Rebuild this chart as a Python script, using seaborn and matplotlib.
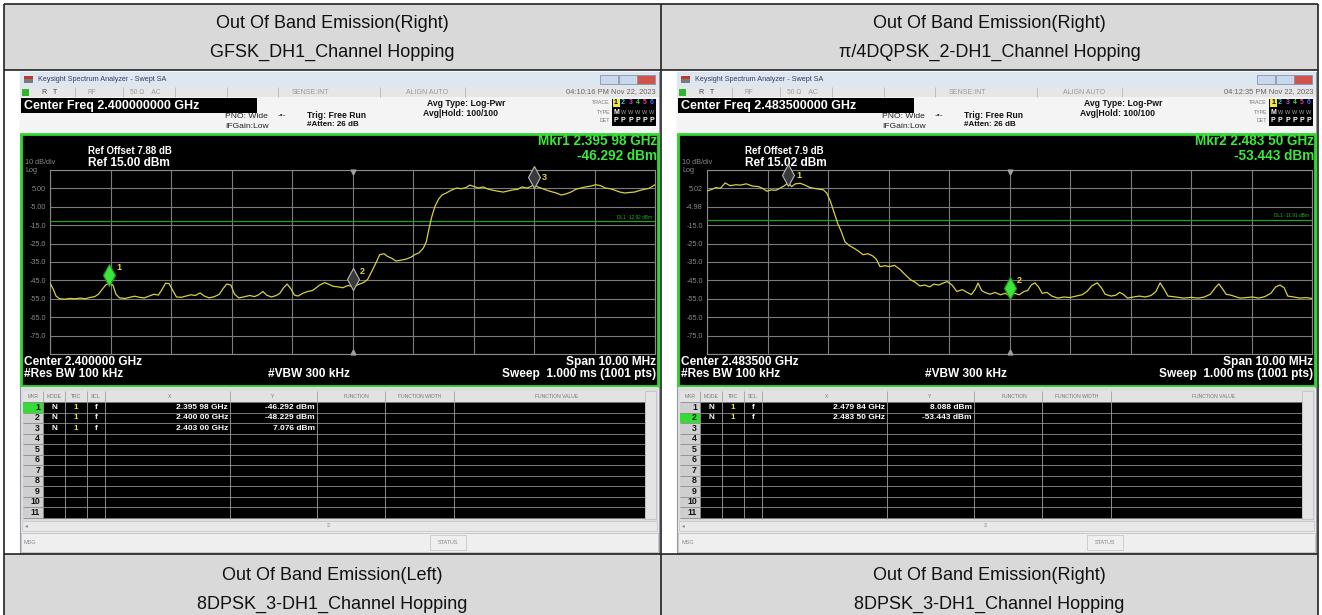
import matplotlib
matplotlib.use("Agg")
import matplotlib.pyplot as plt
import matplotlib.transforms as mtransforms
from matplotlib.patches import Rectangle
import numpy as np
import seaborn as sns

sns.set_theme(style="white")
plt.rcParams['font.family'] = ['Liberation Sans', 'DejaVu Sans']

# ---- values (MHz, dBm) ----
gfsk_freq = [2395.00, 2395.05, 2395.10, 2395.16, 2395.25, 2395.33, 2395.42, 2395.50, 2395.58, 2395.66,
             2395.74, 2395.80, 2395.86, 2395.92, 2395.98, 2396.04, 2396.09, 2396.15, 2396.24, 2396.32,
             2396.40, 2396.48, 2396.56, 2396.64, 2396.72, 2396.79, 2396.85, 2396.91, 2396.97, 2397.03,
             2397.09, 2397.17, 2397.25, 2397.33, 2397.40, 2397.48, 2397.55, 2397.63, 2397.72, 2397.80,
             2397.86, 2397.92, 2397.99, 2398.05, 2398.12, 2398.20, 2398.30, 2398.38, 2398.45, 2398.52,
             2398.58, 2398.66, 2398.74, 2398.80, 2398.86, 2398.92, 2398.98, 2399.04, 2399.10, 2399.18,
             2399.26, 2399.34, 2399.40, 2399.46, 2399.54, 2399.60, 2399.68, 2399.76, 2399.84, 2399.92,
             2400.00, 2400.06, 2400.13, 2400.19, 2400.25, 2400.32, 2400.38, 2400.45, 2400.52, 2400.58,
             2400.65, 2400.72, 2400.80, 2400.88, 2400.96, 2401.03, 2401.10, 2401.17, 2401.22, 2401.27,
             2401.31, 2401.36, 2401.42, 2401.48, 2401.55, 2401.63, 2401.72, 2401.80, 2401.88, 2401.94,
             2402.01, 2402.08, 2402.16, 2402.24, 2402.32, 2402.40, 2402.49, 2402.57, 2402.65, 2402.73,
             2402.80, 2402.88, 2402.95, 2403.00, 2403.06, 2403.13, 2403.21, 2403.29, 2403.37, 2403.45,
             2403.53, 2403.61, 2403.69, 2403.77, 2403.85, 2403.93, 2404.02, 2404.10, 2404.18, 2404.26,
             2404.34, 2404.42, 2404.50, 2404.58, 2404.66, 2404.74, 2404.82, 2404.90, 2404.96, 2405.00]
gfsk_dbm = [-46.5, -49.5, -53.5, -55.0, -55.2, -54.8, -55.0, -54.6, -55.0, -54.3,
            -53.8, -52.5, -50.0, -47.5, -46.3, -47.5, -52.5, -54.5, -54.8, -54.2,
            -53.6, -54.2, -54.5, -53.5, -52.5, -53.0, -50.0, -46.5, -46.8, -50.5,
            -54.0, -54.2, -53.5, -52.8, -53.2, -51.8, -53.5, -54.5, -53.8, -52.5,
            -49.5, -47.0, -47.5, -52.5, -54.5, -54.0, -53.2, -53.8, -52.8, -51.0,
            -53.0, -54.0, -53.2, -52.0, -49.0, -47.0, -49.5, -53.0, -53.5, -52.0,
            -51.0, -50.5, -49.0, -47.5, -46.2, -47.0, -48.2, -48.5, -49.0, -47.8,
            -48.2, -47.8, -46.8, -46.0, -44.5, -40.0, -36.0, -31.0, -30.5, -32.0,
            -33.0, -34.5, -34.0, -33.5, -32.5, -31.0, -30.0, -27.5, -24.0, -16.0,
            -10.5, -5.0, -1.0, 1.5, 2.5, 4.0, 5.2, 4.8, 5.5, 6.8,
            6.0, 5.2, 5.8, 4.6, 4.0, 3.5, 3.0, 3.6, 4.2, 4.5,
            5.8, 5.2, 6.0, 7.1, 5.8, 5.0, 4.0, 3.2, 2.5, 1.4,
            2.0, 3.0, 4.5, 5.2, 5.8, 6.2, 7.0, 6.5, 5.2, 4.8,
            4.0, 3.0, 2.5, 2.8, 3.0, 3.8, 4.5, 5.0, 6.2, 7.0]

dqpsk_freq = [2478.50, 2478.58, 2478.65, 2478.72, 2478.80, 2478.88, 2478.98, 2479.05, 2479.15, 2479.25,
              2479.35, 2479.42, 2479.49, 2479.56, 2479.64, 2479.71, 2479.78, 2479.84, 2479.90, 2479.96,
              2480.04, 2480.12, 2480.20, 2480.28, 2480.35, 2480.42, 2480.48, 2480.54, 2480.60, 2480.66,
              2480.72, 2480.78, 2480.85, 2480.93, 2481.00, 2481.08, 2481.16, 2481.24, 2481.30, 2481.36,
              2481.44, 2481.52, 2481.60, 2481.69, 2481.78, 2481.86, 2481.94, 2482.02, 2482.10, 2482.18,
              2482.25, 2482.33, 2482.40, 2482.47, 2482.55, 2482.63, 2482.72, 2482.80, 2482.87, 2482.93,
              2482.98, 2483.04, 2483.10, 2483.18, 2483.26, 2483.35, 2483.43, 2483.50, 2483.58, 2483.66,
              2483.74, 2483.80, 2483.86, 2483.92, 2483.98, 2484.04, 2484.12, 2484.20, 2484.30, 2484.40,
              2484.50, 2484.60, 2484.70, 2484.78, 2484.86, 2484.95, 2485.02, 2485.08, 2485.18, 2485.26,
              2485.32, 2485.38, 2485.45, 2485.55, 2485.65, 2485.74, 2485.84, 2485.92, 2485.99, 2486.06,
              2486.12, 2486.25, 2486.38, 2486.50, 2486.62, 2486.72, 2486.82, 2486.90, 2486.96, 2487.02,
              2487.08, 2487.16, 2487.25, 2487.31, 2487.42, 2487.52, 2487.62, 2487.72, 2487.82, 2487.90,
              2487.97, 2488.04, 2488.10, 2488.20, 2488.30, 2488.40, 2488.50]
dqpsk_dbm = [3.6, 4.5, 5.5, 5.0, 8.0, 6.5, 7.0, 6.8, 7.5, 6.3,
             6.0, 5.0, 3.5, 4.2, 4.0, 5.2, 6.5, 8.1, 6.0, 7.5,
             7.8, 6.8, 5.5, 5.0, 4.6, 4.3, 2.5, -2.0, -8.0, -14.0,
             -18.5, -24.0, -26.0, -27.5, -29.0, -31.0, -30.5, -31.7, -33.5, -37.5,
             -37.0, -37.5, -36.8, -39.0, -42.0, -44.5, -46.0, -48.0, -47.5, -48.5,
             -47.0, -47.5, -46.5, -45.6, -47.5, -51.0, -50.0, -51.5, -52.7, -50.0,
             -46.4, -50.5, -51.6, -52.5, -51.5, -52.8, -52.0, -53.4, -52.0, -52.8,
             -51.0, -50.5, -47.5, -46.3, -48.5, -52.0, -51.5, -53.5, -54.6, -54.0,
             -54.3, -53.5, -52.8, -51.0, -48.0, -46.3, -49.0, -52.5, -53.5, -53.0,
             -51.5, -52.5, -54.6, -54.0, -53.5, -54.0, -53.2, -51.0, -46.3, -50.0,
             -53.5, -54.0, -54.6, -54.2, -54.6, -54.0, -52.5, -49.0, -46.9, -49.5,
             -52.5, -53.0, -54.0, -54.6, -54.3, -54.0, -54.6, -53.8, -52.0, -48.5,
             -47.5, -49.0, -53.5, -54.0, -54.6, -54.3, -54.8]

gfsk_mkr_freq = [2395.98, 2400.00, 2403.00]
gfsk_mkr_dbm = [-46.292, -48.229, 7.076]
dqpsk_mkr_freq = [2479.84, 2483.50]
dqpsk_mkr_dbm = [8.088, -53.443]

header_top_1 = ['Out Of Band Emission(Right)', 'Out Of Band Emission(Right)']
header_top_2 = ['GFSK_DH1_Channel Hopping', 'π/4DQPSK_2-DH1_Channel Hopping']
header_bot_1 = ['Out Of Band Emission(Left)', 'Out Of Band Emission(Right)']
header_bot_2 = ['8DPSK_3-DH1_Channel Hopping', '8DPSK_3-DH1_Channel Hopping']

center_mhz = [2400.0, 2483.5]
center_freq = ['2.400000000', '2.483500000']
center_short = ['2.400000', '2.483500']
timestamps = ['04:10:16 PM Nov 22, 2023', '04:12:35 PM Nov 22, 2023']
ref_offset = ['7.88', '7.9']
ref_level = [15.00, 15.02]
dl1_level = [-12.92, -11.91]
active_mkr = [1, 2]

traces = [(gfsk_freq, gfsk_dbm, gfsk_mkr_freq, gfsk_mkr_dbm),
          (dqpsk_freq, dqpsk_dbm, dqpsk_mkr_freq, dqpsk_mkr_dbm)]

W, H = 1322, 615
fig = plt.figure(figsize=(W / 100, H / 100), dpi=100)
bg = fig.add_axes([0, 0, 1, 1])
bg.set_xlim(0, W)
bg.set_ylim(H, 0)
bg.axis('off')


def box(x, y, w, h, fc, ec='none', lw=0, z=1):
    bg.add_patch(Rectangle((x, y), w, h, facecolor=fc, edgecolor=ec, linewidth=lw, zorder=z))


def txt(x, y, s, size, color='black', ha='left', weight='normal', z=5):
    bg.text(x, y, s, fontsize=size, color=color, ha=ha, va='center', fontweight=weight, zorder=z)


def vline(x, y0, y1, color, lw=0.8, z=3):
    bg.plot([x, x], [y0, y1], color=color, lw=lw, zorder=z, solid_capstyle='butt')


def hline(x0, x1, y, color, lw=0.8, z=3):
    bg.plot([x0, x1], [y, y], color=color, lw=lw, zorder=z, solid_capstyle='butt')


def ghz(f):
    s = f'{f / 1000:.5f}'
    return s[:5] + ' ' + s[5:]


# outer table
box(0, 0, W, H, 'white', z=0)
cells = [(4, 661), (661, 1318)]
for i, (c0, c1) in enumerate(cells):
    box(c0, 4, c1 - c0, 66, '#d9d9d9', z=0.5)
    box(c0, 554, c1 - c0, 70, '#d9d9d9', z=0.5)
    cx = (c0 + c1) / 2
    txt(cx, 23, header_top_1[i], 13, '#111111', ha='center')
    txt(cx, 52, header_top_2[i], 13, '#111111', ha='center')
    txt(cx, 575, header_bot_1[i], 13, '#111111', ha='center')
    txt(cx, 604, header_bot_2[i], 13, '#111111', ha='center')
for y in [4, 70, 554]:
    hline(4, 1318, y, '#222222', 1.2, z=6)
for x in [4, 661, 1318]:
    vline(x, 4, H, '#222222', 1.2, z=6)


def draw_screen(i, x0):
    top = 72
    sw = 639
    box(x0, top, sw, 481, '#eeeeee', '#8f9aa6', 0.8)
    # title bar
    box(x0, top, sw, 15, '#dde7f2', z=2)
    box(x0 + 4, top + 4, 9, 3, '#c0392b', z=3)
    box(x0 + 4, top + 7, 9, 4, '#7a7a7a', z=3)
    txt(x0 + 18, top + 7.5, 'Keysight Spectrum Analyzer - Swept SA', 5.2, '#3a3a5a')
    for bx, col in [(580, '#c9d8ea'), (599, '#c9d8ea'), (617, '#d0544c')]:
        box(x0 + bx, top + 3, 18, 9, col, '#8796aa', 0.6, z=3)
    # status row
    box(x0, 87, sw, 10, '#e6e6e6', z=2)
    for dx in [55, 103, 155, 207, 258, 360, 445]:
        vline(x0 + dx, 87, 97, '#b5b5b5', 0.6)
    box(x0 + 2, 89, 7, 7, '#2fb52f', z=3)
    txt(x0 + 22, 92, 'R   T', 5, '#444444')
    txt(x0 + 72, 92, 'RF', 4.8, '#999999', ha='center')
    txt(x0 + 110, 92, '50 Ω    AC', 4.8, '#999999')
    txt(x0 + 290, 92, 'SENSE:INT', 5, '#999999', ha='center')
    txt(x0 + 407, 92, 'ALIGN AUTO', 5, '#999999', ha='center')
    txt(x0 + 636, 92, timestamps[i], 5.4, '#666666', ha='right')
    # settings area
    box(x0, 97, sw, 37, '#f4f4f4', z=2)
    box(x0 + 1, 98, 236, 15, 'black', z=3)
    txt(x0 + 4, 106, 'Center Freq ' + center_freq[i] + ' GHz', 9, 'white', weight='bold')
    txt(x0 + 205, 116, 'PNO: Wide', 6.1, '#222222')
    txt(x0 + 205, 126, 'IFGain:Low', 6.1, '#222222')
    txt(x0 + 262, 116, '-•-', 6, '#333333', ha='center')
    txt(x0 + 287, 115, 'Trig: Free Run', 6.2, '#111111', weight='bold')
    txt(x0 + 287, 125, '#Atten: 26 dB', 5.8, '#111111', weight='bold')
    txt(x0 + 407, 103, 'Avg Type: Log-Pwr', 6.2, '#111111', weight='bold')
    txt(x0 + 403, 113, 'Avg|Hold: 100/100', 6.2, '#111111', weight='bold')
    for lab, yy in [('TRACE', 103), ('TYPE', 112), ('DET', 121)]:
        txt(x0 + 590, yy, lab, 3.8, '#777777', ha='right')
    box(x0 + 592, 99, 44, 27, 'black', z=3)
    trace_cols = ['black', '#3cc8e8', '#b050e0', '#5ad25a', '#e040a0', '#5060ff']
    for k in range(6):
        cx = x0 + 596 + k * 7.2
        if k == 0:
            box(cx - 3, 99, 6.5, 8, '#f2e640', z=4)
        txt(cx, 103, str(k + 1), 5, trace_cols[k], ha='center', weight='bold')
        txt(cx, 121, 'P', 5, 'white', ha='center', weight='bold')
        txt(cx, 112, 'M' if k == 0 else 'W', 5 if k == 0 else 4, 'white' if k == 0 else '#aaaaaa',
            ha='center', weight='bold' if k == 0 else 'normal')

    # graph box
    box(x0 + 1, 134, 637, 252, 'black', '#33d633', 2.0, z=2)
    txt(x0 + 5, 163, '10 dB/div', 5.2, '#8a8a8a')
    txt(x0 + 5, 171, 'Log', 5.2, '#8a8a8a')
    txt(x0 + 68, 151, 'Ref Offset ' + ref_offset[i] + ' dB', 7, 'white', weight='bold')
    txt(x0 + 68, 163, f'Ref {ref_level[i]:.2f} dBm', 8.6, 'white', weight='bold')
    k_act = active_mkr[i] - 1
    mf = traces[i][2][k_act]
    mv = traces[i][3][k_act]
    txt(x0 + 637, 141, f'Mkr{active_mkr[i]} {ghz(mf)} GHz', 9.8, '#3be83b', ha='right', weight='bold')
    txt(x0 + 637, 155.5, f'{mv:.3f} dBm', 9.8, '#3be83b', ha='right', weight='bold')
    txt(x0 + 4, 362, 'Center ' + center_short[i] + ' GHz', 8.6, 'white', weight='bold')
    txt(x0 + 4, 374, '#Res BW 100 kHz', 8.6, 'white', weight='bold')
    txt(x0 + 248, 374, '#VBW 300 kHz', 8.6, 'white', weight='bold')
    txt(x0 + 636, 362, 'Span 10.00 MHz', 8.6, 'white', ha='right', weight='bold')
    txt(x0 + 636, 374, 'Sweep  1.000 ms (1001 pts)', 8.6, 'white', ha='right', weight='bold')

    # trace axes
    freq, dbm, mk_f, mk_v = traces[i]
    ref = ref_level[i]
    f_lo, f_hi = center_mhz[i] - 5, center_mhz[i] + 5
    ax = fig.add_axes([(x0 + 30) / W, 1 - 354 / H, 605 / W, 184 / H])
    ax.set_facecolor('black')
    sns.lineplot(x=freq, y=dbm, ax=ax, color='#d8d03c', lw=0.9, sort=False, estimator=None, zorder=4)
    ax.set_xlim(f_lo, f_hi)
    ax.set_ylim(ref - 100, ref)
    ax.set_xticks(np.linspace(f_lo, f_hi, 11))
    yt = [ref - 10 * k for k in range(11)]
    ylab = []
    for k, v in enumerate(yt):
        if k in (0, 10):
            ylab.append('')
        elif abs(v) < 10:
            ylab.append(f'{v:.2f}')
        else:
            ylab.append(f'{v:.1f}')
    ax.set_yticks(yt)
    ax.set_yticklabels(ylab)
    ax.grid(True, color='#7c7c7c', lw=0.8)
    ax.set_axisbelow(True)
    ax.tick_params(axis='y', length=0, pad=3, labelsize=5.2, labelcolor='#8a8a8a')
    ax.tick_params(axis='x', length=0, labelbottom=False)
    ax.set_xlabel('')
    ax.set_ylabel('')
    for s in ax.spines.values():
        s.set_color('#8a8a8a')
        s.set_linewidth(0.8)
    dl = dl1_level[i]
    ax.axhline(dl, color='#1f9e1f', lw=0.9, zorder=3)
    ax.text(f_hi - 0.05, dl + 1.0, f'DL1 {dl:.2f} dBm', fontsize=3.4, color='#2fb02f', ha='right', va='bottom')
    c = center_mhz[i]
    down = mtransforms.offset_copy(ax.transData, fig=fig, x=0, y=-2.5, units='dots')
    up = mtransforms.offset_copy(ax.transData, fig=fig, x=0, y=2.5, units='dots')
    ax.plot([c], [ref], marker='v', ms=3.5, color='#a0a0a0', transform=down, clip_on=False, zorder=5)
    ax.plot([c], [ref - 100], marker='^', ms=3.5, color='#a0a0a0', transform=up, clip_on=False, zorder=5)
    mk_off = mtransforms.offset_copy(ax.transData, fig=fig, x=0, y=7.5, units='dots')
    lab_hi = mtransforms.offset_copy(ax.transData, fig=fig, x=7, y=15, units='dots')
    lab_lo = mtransforms.offset_copy(ax.transData, fig=fig, x=8, y=7, units='dots')
    for k, (f, v) in enumerate(zip(mk_f, mk_v)):
        act = (k + 1) == active_mkr[i]
        ax.plot([f], [v], marker='d', ms=11, mfc='#39e639' if act else '#3a3a3a',
                mec='#1f9e1f' if act else '#b8b8b8', mew=0.8, transform=mk_off, zorder=6, clip_on=False)
        near_top = v > ref - 15
        ax.text(f, v, str(k + 1), transform=lab_lo if near_top else lab_hi, color='#e6d640',
                fontsize=6.5, fontweight='bold', ha='left', va='center', zorder=7)

    # marker table
    box(x0 + 1, 387, 637, 134, '#dcdcdc', z=2)
    box(x0 + 3, 391, 622, 11, '#e2e2e2', z=3)
    box(x0 + 3, 402, 622, 117, 'black', z=3)
    box(x0 + 3, 402, 20, 117, '#cfcfcf', z=3.5)
    row_h = 10.5
    box(x0 + 3, 402 + k_act * row_h, 20, row_h, '#33dd33', z=3.6)
    for k in range(12):
        hline(x0 + 3, x0 + 625, 402 + k * row_h, '#8c8c8c', 0.6, z=4)
    for dx in [23, 45, 67, 85, 210, 297, 365, 434]:
        vline(x0 + dx, 391, 519, '#a0a0a0', 0.6, z=4)
    box(x0 + 625, 391, 11, 128, '#e4e4e4', '#bbbbbb', 0.5, z=3)
    for lab, xx in [('MKR', 13), ('MODE', 34), ('TRC', 56), ('SCL', 76), ('X', 150), ('Y', 253),
                    ('FUNCTION', 337), ('FUNCTION WIDTH', 400), ('FUNCTION VALUE', 537)]:
        txt(x0 + xx, 396.5, lab, 3.6, '#777777', ha='center')
    for k in range(11):
        yy = 402 + (k + 0.5) * row_h
        txt(x0 + 20, yy, str(k + 1), 6.3, '#111111', ha='right', weight='bold')
    for k, (f, v) in enumerate(zip(mk_f, mk_v)):
        yy = 402 + (k + 0.5) * row_h
        txt(x0 + 34, yy, 'N', 5.8, 'white', ha='center', weight='bold')
        txt(x0 + 56, yy, '1', 5.8, '#f0e040', ha='center', weight='bold')
        txt(x0 + 76, yy, 'f', 5.8, 'white', ha='center', weight='bold')
        txt(x0 + 208, yy, f'{ghz(f)} GHz', 6, 'white', ha='right', weight='bold')
        txt(x0 + 295, yy, f'{v:.3f} dBm', 6, 'white', ha='right', weight='bold')
    # scroll bar and message line
    box(x0 + 2, 521, 635, 10, '#e8e8e8', '#c0c0c0', 0.5, z=3)
    txt(x0 + 5, 526, '◂', 4, '#888888')
    txt(x0 + 308, 526, '≡', 4, '#999999', ha='center')
    box(x0 + 1, 533, 637, 19, '#efefef', '#c0c0c0', 0.6, z=3)
    txt(x0 + 4, 542.5, 'MSG', 4, '#888888')
    box(x0 + 410, 535, 36, 15, '#efefef', '#c8c8c8', 0.6, z=4)
    txt(x0 + 428, 542.5, 'STATUS', 4, '#888888', ha='center')


for i, x0 in enumerate([20, 677]):
    draw_screen(i, x0)

fig.savefig('out.png', dpi=100)
